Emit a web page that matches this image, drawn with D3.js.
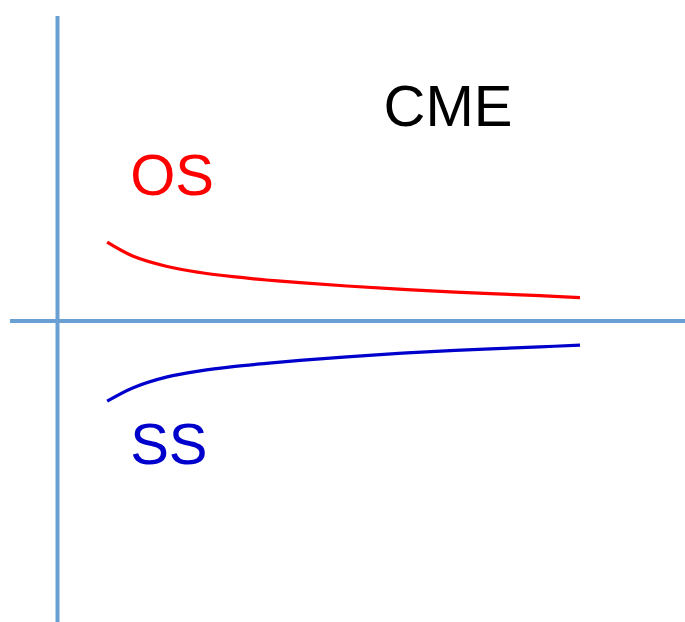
<!DOCTYPE html>
<html>
<head>
<meta charset="utf-8">
<script src="https://cdn.jsdelivr.net/npm/d3@7"></script>
<style>
  html, body { margin: 0; padding: 0; background: #fff; }
  svg { display: block; }
  text { font-family: "Liberation Sans", Arial, Helvetica, sans-serif; }
</style>
</head>
<body>
<svg id="chart" width="685" height="622"></svg>
<script>
// Horizontal positions (arbitrary units along the time/distance axis)
const xValues = [0.95, 1.45, 2.1, 2.73, 3.36, 4.0, 4.64, 5.54, 6.69, 7.95, 9.23, 10];
// Upper branch (OS) and lower branch (SS)
const osValues = [26.3, 21.6, 18.2, 16.2, 14.8, 13.7, 12.8, 11.7, 10.5, 9.4, 8.5, 7.8];
const ssValues = [-26.7, -22.2, -18.6, -16.6, -15.2, -14.1, -13.1, -11.9, -10.6, -9.5, -8.6, -8.0];
// Text annotations, placed in data units
const labelNames = ["CME", "OS", "SS"];
const labelX = [6.24, 1.39, 1.39];
const labelY = [64.9, 42.0, -47.7];

const W = 685, H = 622;
const svg = d3.select("#chart");

const x = d3.scaleLinear().domain([0, 10]).range([57.5, 580]);
const y = d3.scaleLinear().domain([-100.3, 101.7]).range([622, 16]);

const axisColor = "#6a9fd3";

// Crossed axes through the origin
svg.append("line")
  .attr("x1", x(0)).attr("x2", x(0))
  .attr("y1", y(101.7)).attr("y2", H)
  .attr("stroke", axisColor).attr("stroke-width", 4);
svg.append("line")
  .attr("x1", x(-0.91)).attr("x2", W)
  .attr("y1", y(0)).attr("y2", y(0))
  .attr("stroke", axisColor).attr("stroke-width", 4);

const line = d3.line()
  .x(d => x(d[0]))
  .y(d => y(d[1]))
  .curve(d3.curveCatmullRom.alpha(0.5));

const series = [
  { name: "OS", values: osValues, color: "#ff0000" },
  { name: "SS", values: ssValues, color: "#0000cc" }
];

svg.selectAll("path.branch")
  .data(series)
  .enter().append("path")
  .attr("class", "branch")
  .attr("d", s => line(xValues.map((v, i) => [v, s.values[i]])))
  .attr("fill", "none")
  .attr("stroke", s => s.color)
  .attr("stroke-width", 3.2);

const labelColors = ["#000000", "#ff0000", "#0000cc"];
svg.selectAll("text.label")
  .data(labelNames)
  .enter().append("text")
  .attr("class", "label")
  .attr("x", (d, i) => x(labelX[i]))
  .attr("y", (d, i) => y(labelY[i]))
  .attr("font-size", 58)
  .attr("fill", (d, i) => labelColors[i])
  .text(d => d);
</script>
</body>
</html>
